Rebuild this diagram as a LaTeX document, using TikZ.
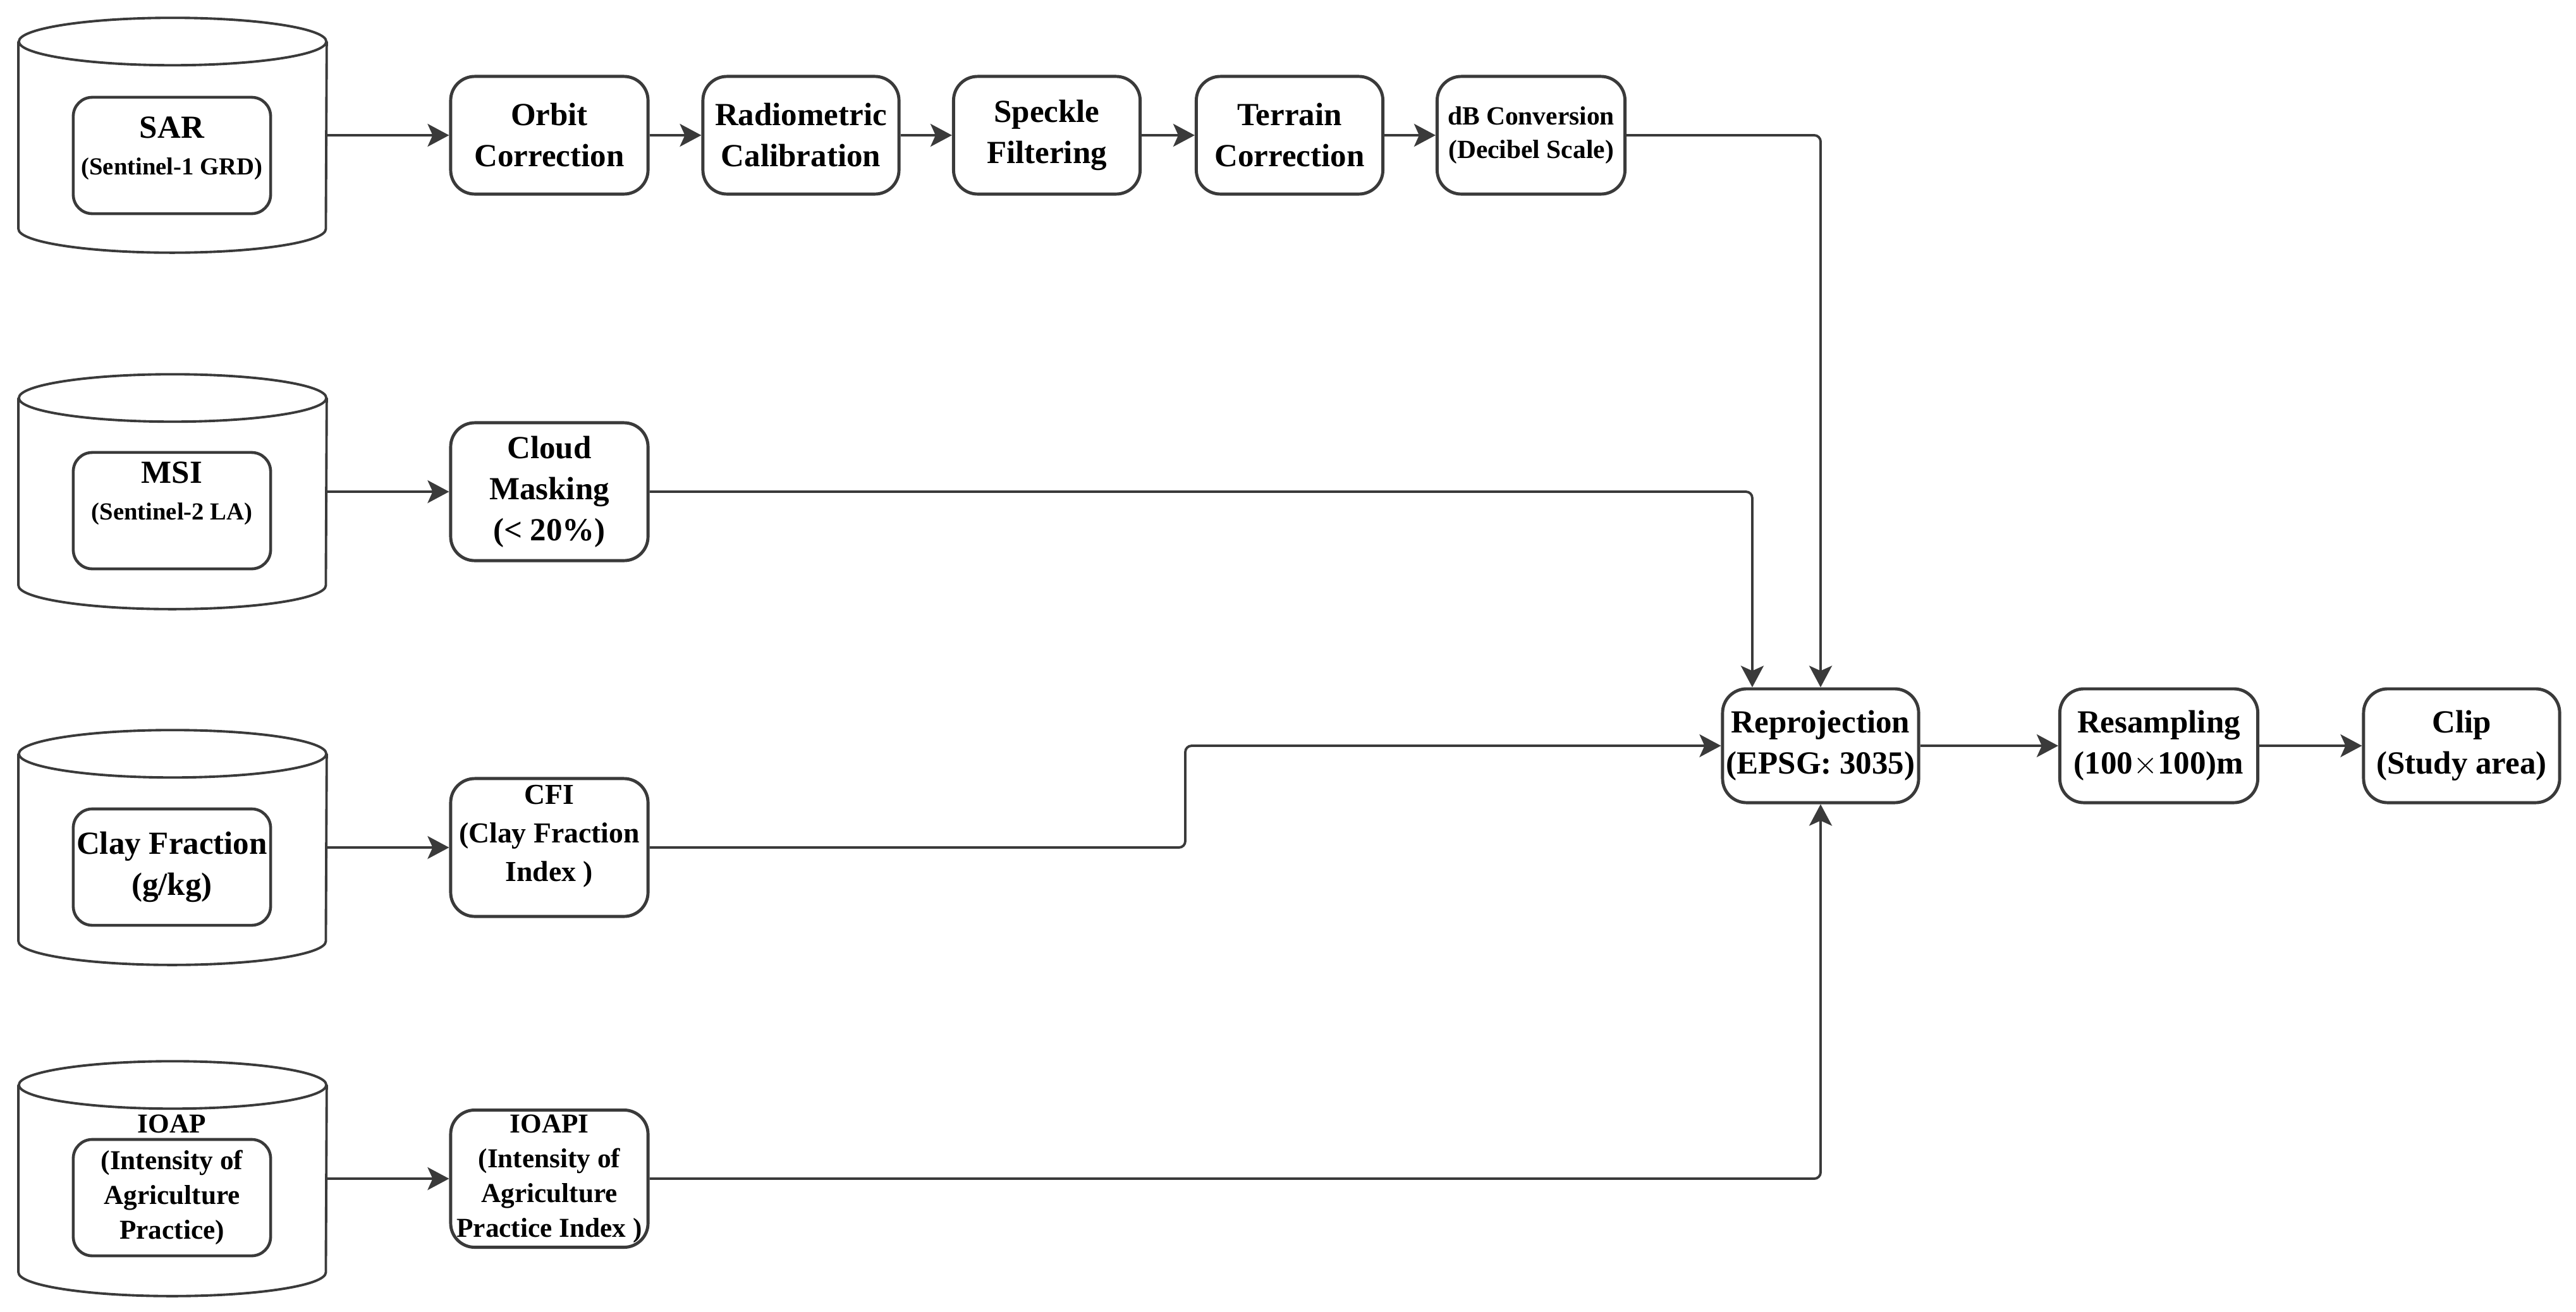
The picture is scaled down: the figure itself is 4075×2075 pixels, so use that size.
\documentclass[tikz,border=0pt]{standalone}
\usepackage{fontspec}
\setmainfont{Liberation Serif}
\usepackage{tikz}
\usepackage{color}
\usetikzlibrary{arrows.meta}
\definecolor{linegray}{RGB}{58,58,58}
\tikzset{
  procnode/.style = {align=center, inner sep=0pt, text centered,
    font=\fontsize{14.5}{18.5}\selectfont\bfseries},
  proc/.style = {procnode, rectangle, rounded corners=0.38cm, draw=linegray,
    line width=1.4pt, minimum width=3.1cm, minimum height=1.86cm},% processing step
  db_cyl/.style = {rectangle, minimum width=4.86cm, minimum height=3.7cm,
    inner sep=0pt},% data source (outline drawn below)
  db_line/.style = {draw=linegray, line width=1.1pt},
  db_in/.style = {procnode, rectangle, rounded corners=0.3cm, draw=linegray,
    line width=1.3pt, minimum width=3.12cm, minimum height=1.84cm},% data label
  conn/.style = {->, draw=linegray, line width=1.1pt, rounded corners=0.1cm}
}

\begin{document}
\begin{tikzpicture}[x=0.01cm, y=-0.01cm,
  >={Stealth[length=0.34cm, width=0.36cm, inset=0.08cm]}]
\path[use as bounding box, fill=white] (0,0) rectangle (4075,2075);

% data sources
\node [db_cyl] (sarDB) at (273,214) {};
\node [db_cyl] (msiDB) at (273,778) {};
\node [db_cyl] (clayDB) at (273,1341) {};
\node [db_cyl] (ioapDB) at (273,1865) {};
\foreach \db in {sarDB,msiDB,clayDB,ioapDB}{
  \draw[db_line] ([yshift=-0.375cm]\db.north west) -- ([yshift=0.375cm]\db.south west)
    arc[start angle=180, end angle=360, x radius=2.43cm, y radius=0.375cm]
    -- ([yshift=-0.375cm]\db.north east);
  \draw[db_line] ([yshift=-0.375cm]\db.north) ellipse [x radius=2.43cm, y radius=0.375cm];
}

\node [db_in, text depth=0.3cm] (sar) at (272,246)
  {SAR\\[-2pt]{\fontsize{11}{14}\selectfont (Sentinel-1 GRD)}};
\node [db_in, text depth=0.62cm] (msi) at (272,808)
  {MSI\\[-2pt]{\fontsize{11}{14}\selectfont (Sentinel-2 LA)}};
\node [db_in] (clay) at (272,1372) {Clay Fraction\\(g/kg)};
\node [db_in, font=\fontsize{12.3}{15.6}\selectfont\bfseries] (ioap) at (272,1895)
  {(Intensity of\\Agriculture\\Practice)};
\node [procnode, font=\fontsize{12.3}{15.6}\selectfont\bfseries] (ioapTitle)
  at (272,1778) {IOAP};

% SAR chain
\node [proc, minimum width=3.12cm] (orbit) at (869,214) {Orbit\\Correction};
\node [proc] (radio) at (1267,214) {Radiometric\\Calibration};
\node [proc, minimum width=2.95cm] (speckle) at (1656,214) {Speckle\\Filtering};
\node [proc, minimum width=2.95cm] (terrain) at (2040,214) {Terrain\\Correction};
\node [proc, minimum width=2.97cm, font=\fontsize{11.8}{15}\selectfont\bfseries]
  (dbconv) at (2422,214) {dB Conversion\\(Decibel Scale)};

% other chains
\node [proc, minimum width=3.12cm, minimum height=2.18cm] (cloud) at (869,778)
  {Cloud\\Masking\\(< 20\%)};
\node [proc, minimum width=3.12cm, minimum height=2.18cm, text depth=0.45cm,
  font=\fontsize{13}{17.3}\selectfont\bfseries] (cfi) at (869,1341)
  {CFI\\(Clay Fraction\\Index )};
\node [proc, minimum width=3.12cm, minimum height=2.17cm,
  font=\fontsize{12.3}{15.6}\selectfont\bfseries] (ioapi) at (869,1865)
  {IOAPI\\(Intensity of\\Agriculture\\Practice Index )};

% common steps
\node [proc, minimum height=1.8cm] (repro) at (2880,1180) {Reprojection\\(EPSG: 3035)};
\node [proc, minimum width=3.13cm, minimum height=1.8cm] (resamp) at (3415,1180)
  {Resampling\\(100$\times$100)m};
\node [proc, minimum height=1.8cm] (clip) at (3894,1180) {Clip\\(Study area)};

\coordinate (cfiBend) at (1875,1341);

\draw[conn] (sarDB.east) -- (orbit.west);
\draw[conn] (orbit) -- (radio);
\draw[conn] (radio) -- (speckle);
\draw[conn] (speckle) -- (terrain);
\draw[conn] (terrain) -- (dbconv);
\draw[conn] (dbconv.east) -| (repro.north);
\draw[conn] (msiDB.east) -- (cloud.west);
\draw[conn] (cloud.east) -| ([xshift=-1.08cm]repro.north);
\draw[conn] (clayDB.east) -- (cfi.west);
\draw[conn] (cfi.east) -- (cfiBend) |- (repro.west);
\draw[conn] (ioapDB.east) -- (ioapi.west);
\draw[conn] (ioapi.east) -| (repro.south);
\draw[conn] (repro) -- (resamp);
\draw[conn] (resamp) -- (clip);
\end{tikzpicture}
\end{document}
